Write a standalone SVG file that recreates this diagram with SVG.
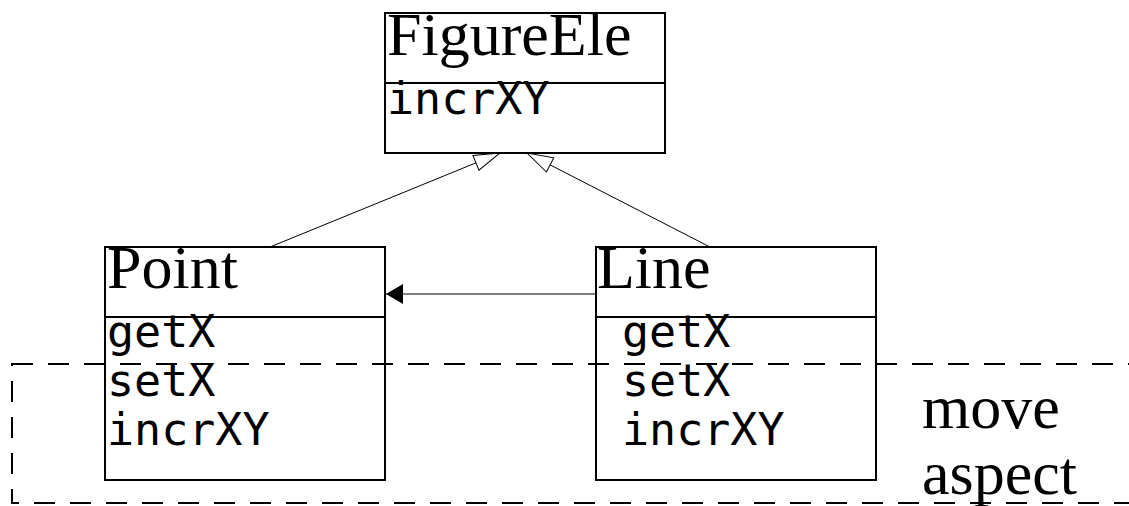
<svg xmlns="http://www.w3.org/2000/svg" width="1129" height="506" viewBox="0 0 1129 506">
<style>
.box{fill:none;stroke:#000;stroke-width:2}
.ttl{font-family:"Liberation Serif","Times New Roman",serif;font-size:62px;fill:#000}
.op{font-family:"DejaVu Sans Mono",monospace;font-size:45px;fill:#000}
.con{stroke:#000;stroke-width:1;fill:none}
</style>
<defs>
<marker id="tri" markerWidth="28" markerHeight="18" refX="27" refY="9" orient="auto" markerUnits="userSpaceOnUse">
<path d="M1,1 L27,9 L1,17 Z" fill="#fff" stroke="#000" stroke-width="1"/>
</marker>
<marker id="fill" markerWidth="18" markerHeight="22" refX="17" refY="11" orient="auto" markerUnits="userSpaceOnUse">
<path d="M0,1 L17,11 L0,21 Z" fill="#000"/>
</marker>
</defs>
<rect x="12" y="364" width="1140" height="139" fill="none" stroke="#000" stroke-width="2" stroke-dasharray="21 15"/>
<g id="connectors">
<line class="con" x1="270" y1="247" x2="500" y2="153" marker-end="url(#tri)"/>
<line class="con" x1="710" y1="247" x2="527" y2="153" marker-end="url(#tri)"/>
<line class="con" x1="596" y1="294" x2="386" y2="294" stroke-width="2" marker-end="url(#fill)"/>
</g>
<g id="FigureEle">
<rect class="box" x="385" y="13" width="280" height="140"/>
<line class="box" x1="385" y1="83" x2="665" y2="83"/>
<text class="ttl" x="387" y="55">FigureEle</text>
<text class="op" x="387" y="114">incrXY</text>
</g>
<g id="Point">
<rect class="box" x="105" y="247" width="280" height="233"/>
<line class="box" x1="105" y1="317" x2="385" y2="317"/>
<text class="ttl" x="107" y="288">Point</text>
<text class="op" x="107" y="347">getX</text>
<text class="op" x="107" y="396">setX</text>
<text class="op" x="107" y="445">incrXY</text>
</g>
<g id="Line">
<rect class="box" x="596" y="247" width="280" height="233"/>
<line class="box" x1="596" y1="317" x2="876" y2="317"/>
<text class="ttl" x="597" y="288">Line</text>
<text class="op" x="622" y="347">getX</text>
<text class="op" x="622" y="396">setX</text>
<text class="op" x="622" y="445">incrXY</text>
</g>
<g id="move-aspect">
<text class="ttl" x="922" y="428">move</text>
<text class="ttl" x="922" y="494">aspect</text>
</g>
</svg>
